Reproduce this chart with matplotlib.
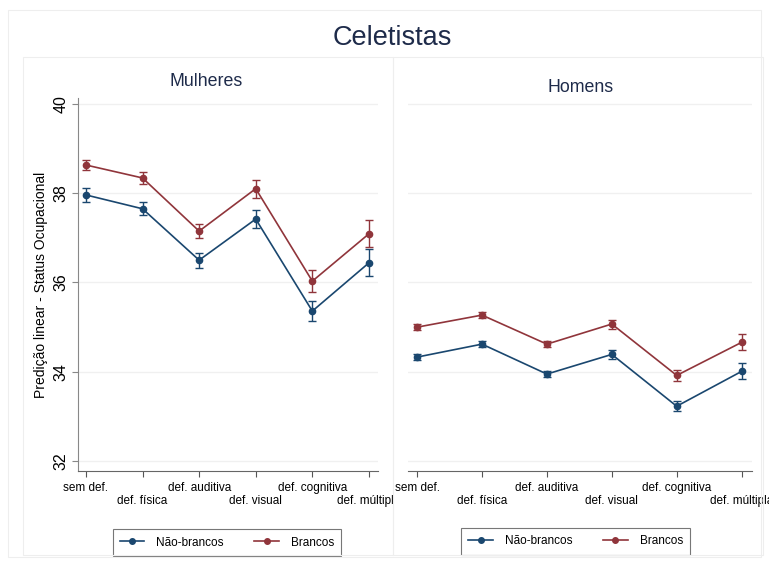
import numpy as np
import matplotlib
matplotlib.use('Agg')
import matplotlib.pyplot as plt
from matplotlib.patches import Rectangle
from matplotlib.lines import Line2D
from matplotlib.transforms import Bbox, TransformedBbox

plt.rcParams['font.family'] = ['Liberation Sans', 'DejaVu Sans']

categorias = ['sem def.', 'def. física', 'def. auditiva', 'def. visual', 'def. cognitiva', 'def. múltipla']

# Mulheres
mul_nb = [37.96, 37.65, 36.50, 37.42, 35.36, 36.44]
mul_nb_err = [0.15, 0.15, 0.17, 0.20, 0.22, 0.30]
mul_br = [38.63, 38.34, 37.15, 38.10, 36.03, 37.09]
mul_br_err = [0.12, 0.13, 0.16, 0.20, 0.25, 0.30]

# Homens
hom_nb = [34.33, 34.62, 33.95, 34.39, 33.23, 34.01]
hom_nb_err = [0.06, 0.06, 0.07, 0.10, 0.11, 0.18]
hom_br = [35.00, 35.27, 34.62, 35.07, 33.92, 34.66]
hom_br_err = [0.06, 0.06, 0.07, 0.10, 0.12, 0.18]

navy = '#1a476f'
maroon = '#90353b'
titcol = '#1e2b4a'

W, H = 769, 563
fig = plt.figure(figsize=(W / 100, H / 100), dpi=100)

def fx(px):
    return px / W

def fy(py):
    return 1 - py / H

# outer frame and panel frames (Stata-like)
fig.patches.append(Rectangle((fx(8), fy(557)), fx(761 - 8), fy(10) - fy(557),
                             transform=fig.transFigure, fill=False, ec='#eeeeee', lw=0.8))
panels = [(23, 57, 393, 555), (393, 57, 763, 555)]
for (x0, y0, x1, y1) in panels:
    fig.patches.append(Rectangle((fx(x0), fy(y1)), fx(x1 - x0), fy(y0) - fy(y1),
                                 transform=fig.transFigure, fill=False, ec='#eeeeee', lw=0.8))

fig.text(fx(392), fy(38), 'Celetistas', ha='center', va='center', fontsize=19.5, color=titcol)

axes_px = [(78, 378), (408, 752)]
subtitles = ['Mulheres', 'Homens']
sub_x = [206, 581]
sub_y = [82, 87]
dados = [(mul_nb, mul_nb_err, mul_br, mul_br_err), (hom_nb, hom_nb_err, hom_br, hom_br_err)]
leg_px = [(113, 529, 341, 556), (462, 528, 689, 555)]
clip_x1 = [393, 769]

x = np.arange(len(categorias))
for i in range(2):
    a0, a1 = axes_px[i]
    ax = fig.add_axes([fx(a0), fy(471), fx(a1 - a0), fy(98) - fy(471)])
    nb, nb_e, br, br_e = dados[i]
    ax.errorbar(x, nb, yerr=nb_e, color=navy, marker='o', ms=4.5, lw=1.2,
                capsize=3, elinewidth=1, capthick=1)
    ax.errorbar(x, br, yerr=br_e, color=maroon, marker='o', ms=4.5, lw=1.2,
                capsize=3, elinewidth=1, capthick=1)
    ax.set_xlim(-0.14, 5.16)
    ax.set_ylim(31.78, 40.13)
    ax.set_yticks([32, 34, 36, 38, 40])
    for g in [32, 34, 36, 38, 40]:
        ax.axhline(g, color='#f0f0f0', lw=1.0, zorder=0)
    ax.set_xticks(x)
    labs = [('\n' + c if k % 2 else c) for k, c in enumerate(categorias)]
    ax.set_xticklabels(labs, fontsize=8.5, linespacing=1.05)
    ax.tick_params(axis='x', length=4, color='#555555', pad=4)
    ax.spines['top'].set_visible(False)
    ax.spines['right'].set_visible(False)
    ax.spines['bottom'].set_color('#666666')
    if i == 0:
        ax.spines['left'].set_color('#888888')
        ax.tick_params(axis='y', length=4, color='#888888', labelsize=11.5, pad=3)
        for t in ax.get_yticklabels():
            t.set_rotation(90)
            t.set_va('center')
        ax.set_ylabel('Predição linear - Status Ocupacional', fontsize=10, labelpad=4)
    else:
        ax.spines['left'].set_visible(False)
        ax.tick_params(axis='y', left=False, labelleft=False)
    # clip labels like the reference
    clip = TransformedBbox(Bbox([[fx(panels[i][0]), 0], [fx(clip_x1[i]), 1]]), fig.transFigure)
    for t in ax.get_xticklabels():
        t.set_clip_on(True)
        t.set_clip_box(clip)
    fig.text(fx(sub_x[i]), fy(sub_y[i]), subtitles[i], ha='center', va='center',
             fontsize=12.8, color=titcol)
    handles = [Line2D([], [], color=navy, marker='o', ms=4, lw=1.2),
               Line2D([], [], color=maroon, marker='o', ms=4, lw=1.2)]
    l0, t0, l1, t1 = leg_px[i]
    leg = ax.legend(handles, ['Não-brancos', 'Brancos'], loc='center',
                    bbox_to_anchor=(fx((l0 + l1) / 2), fy((t0 + t1) / 2)),
                    bbox_transform=fig.transFigure, ncol=2, fontsize=8.5, frameon=True,
                    fancybox=False, edgecolor='#555555', handlelength=2.1, columnspacing=2.6,
                    borderpad=0.6, handletextpad=1.0)
    leg.get_frame().set_linewidth(0.8)

fig.savefig('out.png', dpi=100, facecolor='white')
